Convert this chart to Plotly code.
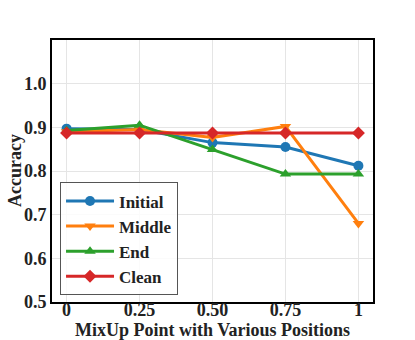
import plotly.graph_objects as go

x_vals = [0, 0.25, 0.5, 0.75, 1]
x_labels = ["0", "0.25", "0.50", "0.75", "1"]
y_ticks = [0.5, 0.6, 0.7, 0.8, 0.9, 1.0]
y_labels = ["0.5", "0.6", "0.7", "0.8", "0.9", "1.0"]
initial = [0.897, 0.895, 0.865, 0.855, 0.812]
middle = [0.890, 0.895, 0.877, 0.902, 0.680]
end = [0.893, 0.905, 0.849, 0.793, 0.793]
clean = [0.887, 0.887, 0.887, 0.887, 0.887]

series = [
    ("Initial", initial, "#1f77b4", "circle"),
    ("Middle", middle, "#ff7f0e", "triangle-down"),
    ("End", end, "#2ca02c", "triangle-up"),
    ("Clean", clean, "#d62728", "diamond"),
]

fig = go.Figure()
for name, ys, color, sym in series:
    fig.add_trace(go.Scatter(
        x=x_vals, y=ys, name=name, mode="lines+markers",
        line=dict(color=color, width=3),
        marker=dict(symbol=sym, size=10, color=color),
    ))

font_family = "Liberation Serif"
fig.update_layout(
    width=415, height=340,
    margin=dict(l=52, r=42, t=40, b=38),
    paper_bgcolor="white", plot_bgcolor="white",
    font=dict(family=font_family, size=18, color="#222"),
    showlegend=True,
    legend=dict(
        x=0.025, y=0.025, xanchor="left", yanchor="bottom",
        bgcolor="rgba(255,255,255,0.85)", bordercolor="#555", borderwidth=1,
        font=dict(family=font_family, size=17, color="#222", weight="bold"),
        itemwidth=48, tracegroupgap=2,
    ),
    xaxis=dict(
        range=[-0.05, 1.05], tickvals=x_vals, ticktext=x_labels,
        showgrid=True, gridcolor="#e5e5e5", gridwidth=1, automargin=False,
        zeroline=False, showline=True, linecolor="black", linewidth=2, mirror=True,
        ticks="", ticklabelstandoff=-10,
        tickfont=dict(family=font_family, size=18, weight="bold"),
    ),
    yaxis=dict(
        range=[0.5, 1.1], tickvals=y_ticks, ticktext=y_labels,
        showgrid=True, gridcolor="#e5e5e5", gridwidth=1, automargin=False,
        zeroline=False, showline=True, linecolor="black", linewidth=2, mirror=True,
        ticks="", tickfont=dict(family=font_family, size=18, weight="bold"),
    ),
    annotations=[
        dict(text="<b>MixUp Point with Various Positions</b>", xref="paper", yref="paper",
             x=0.5, y=0, yshift=-28, xanchor="center", yanchor="middle", showarrow=False,
             font=dict(family=font_family, size=18, color="#222")),
        dict(text="<b>Accuracy</b>", xref="paper", yref="paper", textangle=-90,
             x=0, y=0.5, xshift=-37, xanchor="center", yanchor="middle", showarrow=False,
             font=dict(family=font_family, size=18, color="#222")),
    ],
)

# remove the default 8px page margin so the 415x340 figure fills the window exactly
fig.write_html("out.html", config={"displayModeBar": False},
               post_script="document.body.style.margin='0';")
